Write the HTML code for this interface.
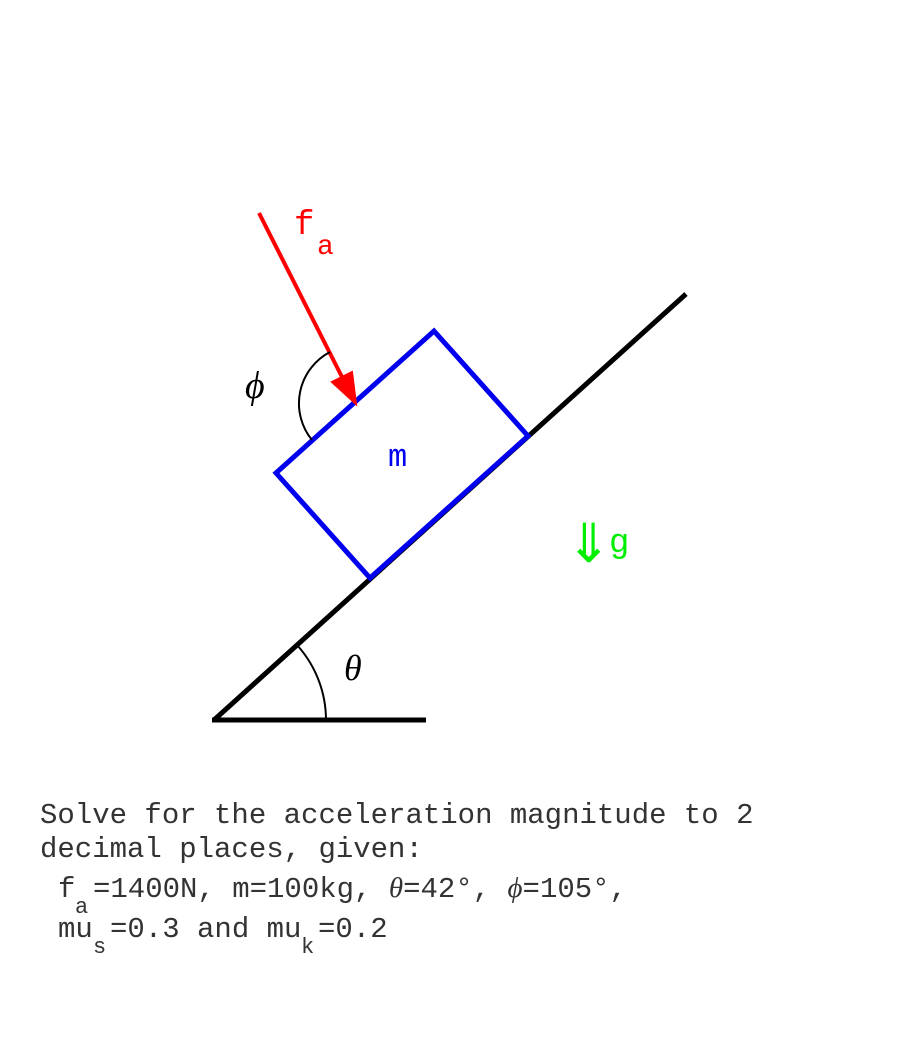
<!DOCTYPE html>
<html><head><style>body{margin:0;background:#fff}</style></head><body>
<svg width="900" height="1047" xmlns="http://www.w3.org/2000/svg" style="display:block">
<rect width="900" height="1047" fill="#fff"/>
<line x1="214" y1="720" x2="686" y2="294" stroke="#000" stroke-width="5"/>
<line x1="212" y1="720" x2="426" y2="720" stroke="#000" stroke-width="5"/>
<path d="M326 720 A112 112 0 0 0 297 645" fill="none" stroke="#000" stroke-width="2"/>
<text x="344" y="680" font-family="Liberation Serif,serif" font-style="italic" font-size="36">θ</text>
<polygon points="370,578 528,436 434,331 276,473" fill="none" stroke="#0000ee" stroke-width="5"/>
<text x="388" y="466" font-family="Liberation Mono,monospace" font-size="32" fill="#0000ee">m</text>
<line x1="259" y1="213" x2="344" y2="381" stroke="#f00" stroke-width="4"/>
<polygon points="356,404 332,382 352,372" fill="#f00" stroke="#f00" stroke-width="2"/>
<path d="M330 352 A58 58 0 0 0 312 440" fill="none" stroke="#000" stroke-width="2"/>
<text x="245" y="398" font-family="Liberation Serif,serif" font-style="italic" font-size="38">ϕ</text>
<text x="294" y="234" font-family="Liberation Mono,monospace" font-size="34" fill="#f00">f</text>
<text x="317" y="254" font-family="Liberation Mono,monospace" font-size="28" fill="#f00">a</text>
<text x="566" y="562" font-family="DejaVu Sans,sans-serif" font-size="54" fill="#00ee00">⇓</text>
<text x="609" y="552" font-family="Liberation Mono,monospace" font-size="34" fill="#00ee00">g</text>
<g font-family="Liberation Mono,monospace" font-size="29" fill="#333">
<text x="40" y="823">Solve for the acceleration magnitude to 2</text>
<text x="40" y="857">decimal places, given:</text>
<text x="58" y="897">f</text><text x="75" y="913" font-size="22">a</text>
<text x="93" y="897">=1400N, m=100kg, <tspan font-family="Liberation Serif,serif" font-style="italic">θ</tspan>=42°, <tspan font-family="Liberation Serif,serif" font-style="italic">ϕ</tspan>=105°,</text>
<text x="58" y="937">mu</text><text x="93" y="953" font-size="22">s</text>
<text x="110" y="937">=0.3 and mu</text><text x="301" y="953" font-size="22">k</text>
<text x="318" y="937">=0.2</text>
</g>
</svg>
</body></html>
